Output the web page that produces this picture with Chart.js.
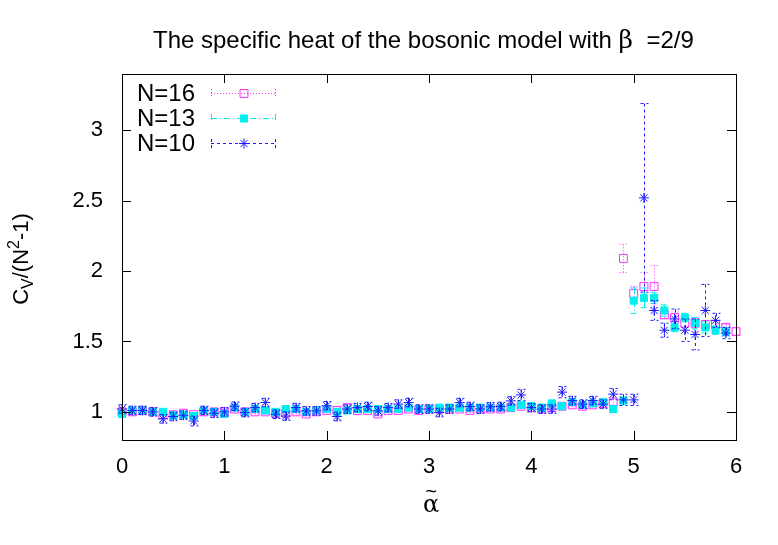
<!DOCTYPE html>
<html>
<head>
<meta charset="utf-8">
<script src="https://cdn.jsdelivr.net/npm/chart.js@4.4.1/dist/chart.umd.min.js"></script>
<style>
  html, body { margin: 0; background: #fff; }
</style>
</head>
<body>
<canvas id="cv" width="778" height="545"></canvas>
<script>
// alpha~ values (x), one entry per measured point
const alpha = [0.0,0.1,0.2,0.3,0.4,0.5,0.6,0.7,0.8,0.9,
               1.0,1.1,1.2,1.3,1.4,1.5,1.6,1.7,1.8,1.9,
               2.0,2.1,2.2,2.3,2.4,2.5,2.6,2.7,2.8,2.9,
               3.0,3.1,3.2,3.3,3.4,3.5,3.6,3.7,3.8,3.9,
               4.0,4.1,4.2,4.3,4.4,4.5,4.6,4.7,4.8,4.9,
               5.0,5.1,5.2,5.3,5.4,5.5,5.6,5.7,5.8,5.9,
               6.0];

// C_V/(N^2-1), N=16
const n16 = [1.00,1.00,1.01,1.00,0.98,0.98,0.99,0.98,1.00,1.00,
             1.00,1.02,1.00,1.00,1.00,0.99,0.99,1.00,0.985,1.00,
             1.01,1.01,1.03,1.01,1.01,0.985,1.01,1.01,1.02,1.01,
             1.02,1.02,1.02,1.02,1.01,1.02,1.02,1.02,1.03,1.04,
             1.03,1.02,1.03,1.04,1.05,1.04,1.05,1.06,1.07,2.09,
             1.84,1.89,1.89,1.69,1.67,1.63,1.63,1.62,1.62,1.60,
             1.57];
const n16Err = [0.015,0.015,0.015,0.015,0.015,0.015,0.015,0.015,0.015,0.015,
                0.015,0.015,0.015,0.015,0.015,0.015,0.015,0.015,0.015,0.015,
                0.015,0.015,0.015,0.015,0.015,0.015,0.015,0.015,0.015,0.015,
                0.015,0.015,0.015,0.015,0.015,0.015,0.015,0.015,0.015,0.015,
                0.015,0.015,0.015,0.015,0.015,0.015,0.015,0.015,0.02,0.10,
                0.05,0.10,0.15,0.03,0.04,0.03,0.03,0.03,0.03,0.02,
                0.02];

// N=13
const n13 = [0.985,1.01,1.01,1.00,1.00,0.975,0.98,0.97,1.01,1.00,
             0.985,1.03,1.00,1.02,1.01,1.00,1.02,1.02,1.00,1.01,
             1.02,1.00,1.01,1.02,1.02,1.02,1.02,1.02,1.03,1.02,
             1.02,1.03,1.03,1.03,1.03,1.03,1.03,1.03,1.03,1.05,
             1.04,1.03,1.06,1.04,1.07,1.05,1.06,1.07,1.02,1.08,
             1.79,1.81,1.81,1.72,1.60,1.67,1.63,1.60,1.58,1.57,
             null];
const n13Err = [0.015,0.015,0.015,0.015,0.015,0.015,0.015,0.015,0.015,0.015,
                0.015,0.015,0.015,0.015,0.015,0.015,0.015,0.015,0.015,0.015,
                0.015,0.015,0.015,0.015,0.015,0.015,0.015,0.015,0.015,0.015,
                0.015,0.015,0.015,0.015,0.015,0.015,0.015,0.015,0.015,0.015,
                0.015,0.015,0.015,0.015,0.015,0.015,0.015,0.015,0.015,0.02,
                0.09,0.07,0.04,0.04,0.03,0.03,0.04,0.04,0.03,0.03,
                null];

// N=10
const n10 = [1.02,1.01,1.01,1.00,0.95,0.967,0.976,0.935,1.01,0.99,
             1.00,1.04,0.995,1.03,1.066,0.983,0.97,1.03,1.007,1.007,
             1.043,0.967,1.02,1.03,1.038,1.007,1.03,1.055,1.066,1.02,
             1.02,0.995,1.02,1.066,1.038,1.02,1.036,1.038,1.078,1.12,
             1.03,1.02,1.02,1.14,1.08,1.055,1.08,1.055,1.126,1.085,
             1.085,2.52,1.72,1.58,1.66,1.58,1.55,1.72,1.65,1.56,
             null];
const n10Err = [0.03,0.03,0.03,0.03,0.03,0.03,0.03,0.035,0.03,0.03,
                0.03,0.03,0.03,0.03,0.03,0.03,0.03,0.03,0.03,0.03,
                0.03,0.03,0.03,0.03,0.03,0.03,0.03,0.03,0.03,0.03,
                0.03,0.03,0.03,0.03,0.03,0.03,0.03,0.03,0.03,0.04,
                0.03,0.03,0.03,0.04,0.03,0.03,0.03,0.03,0.04,0.04,
                0.04,0.67,0.07,0.05,0.07,0.08,0.11,0.185,0.05,0.04,
                null];

const xTicks = [0, 1, 2, 3, 4, 5, 6];
const yTicks = [1, 1.5, 2, 2.5, 3];
const seriesNames = ['N=16', 'N=13', 'N=10'];

const FONT = '"Liberation Sans", Arial, sans-serif';

function points(vals, errs) {
  const out = [];
  alpha.forEach((a, i) => {
    if (vals[i] !== null) out.push({ x: a, y: vals[i], e: errs[i] });
  });
  return out;
}

// error bars drawn under each dataset's own markers
const errBars = {
  id: 'errBars',
  beforeDatasetDraw(chart, args) {
    const ds = chart.data.datasets[args.index];
    const xs = chart.scales.x, ys = chart.scales.y, ctx = chart.ctx;
    ctx.save();
    ctx.strokeStyle = ds.borderColor;
    ctx.lineWidth = 1;
    ctx.setLineDash(ds.errDash);
    for (const p of ds.data) {
      const px = Math.round(xs.getPixelForValue(p.x)) + 0.5;
      const t = ys.getPixelForValue(p.y + p.e), b = ys.getPixelForValue(p.y - p.e);
      ctx.beginPath();
      ctx.moveTo(px, t); ctx.lineTo(px, b);
      ctx.moveTo(px - 4, t); ctx.lineTo(px + 4, t);
      ctx.moveTo(px - 4, b); ctx.lineTo(px + 4, b);
      ctx.stroke();
    }
    ctx.restore();
  }
};

// gnuplot style frame, inward ticks, title, axis titles and key
const frame = {
  id: 'frame',
  afterDraw(chart) {
    const { ctx, chartArea: a } = chart;
    const xs = chart.scales.x, ys = chart.scales.y;
    ctx.save();
    ctx.strokeStyle = '#000';
    ctx.lineWidth = 1;
    ctx.strokeRect(a.left + 0.5, a.top + 0.5, a.right - a.left, a.bottom - a.top);
    ctx.beginPath();
    for (const v of xTicks) {
      const px = Math.round(xs.getPixelForValue(v)) + 0.5;
      ctx.moveTo(px, a.bottom); ctx.lineTo(px, a.bottom - 9);
      ctx.moveTo(px, a.top); ctx.lineTo(px, a.top + 9);
    }
    for (const v of yTicks) {
      const py = Math.round(ys.getPixelForValue(v)) + 0.5;
      ctx.moveTo(a.left, py); ctx.lineTo(a.left + 9, py);
      ctx.moveTo(a.right, py); ctx.lineTo(a.right - 9, py);
    }
    ctx.stroke();

    ctx.fillStyle = '#000';
    ctx.textBaseline = 'alphabetic';

    // title
    const t1 = 'The specific heat of the bosonic model with ';
    const t2 = 'β';
    const t3 = '  =2/9';
    ctx.textAlign = 'left';
    let tx = 153;
    ctx.font = '24px ' + FONT;
    ctx.fillText(t1, tx, 48);
    tx += ctx.measureText(t1).width;
    ctx.font = '25px "DejaVu Serif", serif';
    ctx.fillText(t2, tx, 48);
    tx += ctx.measureText(t2).width;
    ctx.font = '24px ' + FONT;
    ctx.fillText(t3, tx, 48);

    // x axis title: alpha with tilde
    ctx.textAlign = 'center';
    ctx.font = '24px "DejaVu Serif", serif';
    ctx.fillText('α', 431, 512);
    ctx.font = '20px ' + FONT;
    ctx.fillText('~', 431, 498);

    // y axis title C_V/(N^2-1)
    ctx.save();
    ctx.translate(28, 259);
    ctx.rotate(-Math.PI / 2);
    const big = '22px ' + FONT, small = '16px ' + FONT;
    const parts = [['C', big, 0], ['V', small, 5], ['/(N', big, 0], ['2', small, -9], ['-1)', big, 0]];
    let total = 0;
    for (const [s, f] of parts) { ctx.font = f; total += ctx.measureText(s).width; }
    let cx = -total / 2;
    ctx.textAlign = 'left';
    for (const [s, f, dy] of parts) {
      ctx.font = f;
      ctx.fillText(s, cx, dy);
      cx += ctx.measureText(s).width;
    }
    ctx.restore();

    // key
    const rows = [93, 118, 143];
    chart.data.datasets.forEach((ds, i) => {
      const y = rows[i];
      ctx.fillStyle = '#000';
      ctx.font = '24px ' + FONT;
      ctx.textAlign = 'left';
      ctx.textBaseline = 'middle';
      ctx.fillText(ds.label, 137, y + 1);
      ctx.strokeStyle = ds.borderColor;
      ctx.lineWidth = 1;
      ctx.setLineDash(ds.errDash);
      ctx.beginPath();
      ctx.moveTo(211, y + 0.5); ctx.lineTo(276, y + 0.5);
      ctx.moveTo(211.5, y - 4); ctx.lineTo(211.5, y + 5);
      ctx.moveTo(275.5, y - 4); ctx.lineTo(275.5, y + 5);
      ctx.stroke();
      ctx.setLineDash([]);
      ctx.fillStyle = ds.pointBackgroundColor;
      Chart.helpers.drawPoint(ctx, {
        pointStyle: ds.pointStyle, radius: ds.pointRadius, rotation: 0, borderWidth: 1
      }, 244, y + 0.5);
    });
    ctx.restore();
  }
};

const datasets = [
  {
    label: seriesNames[0], data: points(n16, n16Err),
    borderColor: '#ff33ff', pointBackgroundColor: 'rgba(0,0,0,0)', pointBorderColor: '#ff33ff',
    pointStyle: 'rect', pointRadius: 5.6, pointBorderWidth: 1, errDash: [1, 2], order: 2
  },
  {
    label: seriesNames[1], data: points(n13, n13Err),
    borderColor: '#00eeee', pointBackgroundColor: '#00eeee', pointBorderColor: '#00eeee',
    pointStyle: 'rect', pointRadius: 5, pointBorderWidth: 1, errDash: [6, 3, 1, 3], order: 1
  },
  {
    label: seriesNames[2], data: points(n10, n10Err),
    borderColor: '#1a1aff', pointBackgroundColor: '#1a1aff', pointBorderColor: '#1a1aff',
    pointStyle: 'star', pointRadius: 5, pointBorderWidth: 1, errDash: [3, 3], order: 0
  }
];

new Chart(document.getElementById('cv'), {
  type: 'scatter',
  data: { datasets },
  options: {
    responsive: false,
    animation: false,
    devicePixelRatio: 1,
    clip: false,
    datasets: { scatter: { showLine: false, clip: false } },
    layout: { padding: { top: 74, right: 42, left: 0, bottom: 0 } },
    plugins: { legend: { display: false }, tooltip: { enabled: false }, title: { display: false } },
    scales: {
      x: {
        type: 'linear', min: 0, max: 6,
        afterBuildTicks: s => { s.ticks = xTicks.map(v => ({ value: v })); },
        afterFit: s => { s.height = 105; },
        grid: { display: false, drawTicks: false },
        border: { display: false },
        ticks: { color: '#000', font: { family: FONT, size: 22 }, padding: 14, maxRotation: 0, callback: v => String(v) }
      },
      y: {
        type: 'linear', min: 0.8, max: 3.4,
        afterBuildTicks: s => { s.ticks = yTicks.map(v => ({ value: v })); },
        afterFit: s => { s.width = 122; },
        grid: { display: false, drawTicks: false },
        border: { display: false },
        ticks: { color: '#000', font: { family: FONT, size: 22 }, padding: 19, callback: v => String(v) }
      }
    }
  },
  plugins: [errBars, frame]
});
</script>
</body>
</html>
